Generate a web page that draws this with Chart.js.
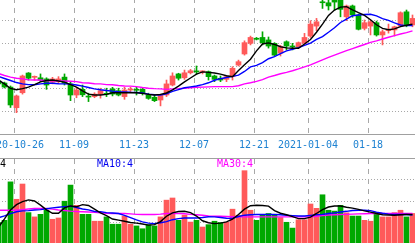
<!DOCTYPE html>
<html>
<head>
<meta charset="utf-8">
<script src="https://cdn.jsdelivr.net/npm/chart.js@4/dist/chart.umd.min.js"></script>
<style>
html,body{margin:0;padding:0;background:#fff;overflow:hidden;width:415px;height:243px;position:relative}
canvas{position:absolute}
#kline{left:-40px;top:-2px}
#vol{left:-40px;top:158px}
.ma{position:absolute;top:159px;font:10px/10px "DejaVu Sans Mono",monospace;white-space:pre}
</style>
</head>
<body>
<canvas id="kline" width="495" height="159"></canvas>
<canvas id="vol" width="495" height="86"></canvas>
<span class="ma" style="left:-24px;color:#000">MA5:4</span>
<span class="ma" style="left:97px;color:#0000f0">MA10:4</span>
<span class="ma" style="left:217px;color:#ff00ff">MA30:4</span>
<script>
// dias de cotizacion (el primero queda fuera del recorte)
const dates=['2020-10-21','2020-10-22','2020-10-23','2020-10-26','2020-10-27','2020-10-28','2020-10-29','2020-10-30','2020-11-02','2020-11-03',
'2020-11-04','2020-11-05','2020-11-06','2020-11-09','2020-11-10','2020-11-11','2020-11-12','2020-11-13','2020-11-16','2020-11-17',
'2020-11-18','2020-11-19','2020-11-20','2020-11-23','2020-11-24','2020-11-25','2020-11-26','2020-11-27','2020-11-30','2020-12-01',
'2020-12-02','2020-12-03','2020-12-04','2020-12-07','2020-12-08','2020-12-09','2020-12-10','2020-12-11','2020-12-14','2020-12-15',
'2020-12-16','2020-12-17','2020-12-18','2020-12-21','2020-12-22','2020-12-23','2020-12-24','2020-12-25','2020-12-28','2020-12-29',
'2020-12-30','2020-12-31','2021-01-04','2021-01-05','2021-01-06','2021-01-07','2021-01-08','2021-01-11','2021-01-12','2021-01-13',
'2021-01-14','2021-01-15','2021-01-18','2021-01-19','2021-01-20','2021-01-21','2021-01-22','2021-01-25','2021-01-26','2021-01-27']

const tickDates=['2020-10-26','2020-11-09','2020-11-23','2020-12-07','2020-12-21','2021-01-04','2021-01-18']
const tickLabels=['2020-10-26','11-09','11-23','12-07','12-21','2021-01-04','01-18']

const open=[12.34,12.25,12.07,11.16,11.82,12.69,12.50,12.48,12.43,12.28,
12.31,12.51,12.21,11.72,11.97,11.66,11.65,11.76,11.78,11.99,
11.91,11.65,11.94,11.95,11.97,11.72,11.62,11.50,11.72,12.16,
12.65,12.48,12.70,12.77,12.74,12.75,12.56,12.46,12.41,12.53,
13.04,13.53,14.00,14.20,14.26,14.15,14.00,13.57,14.07,13.87,
13.85,14.00,14.32,14.76,15.82,15.79,15.90,15.91,15.17,15.65,
15.25,14.66,14.76,14.91,14.37,14.56,14.59,14.76,15.39,14.81]
const close=[12.21,12.07,11.28,11.68,12.56,12.46,12.53,12.38,12.16,12.43,
12.43,12.24,11.72,11.94,11.73,11.63,11.76,11.91,11.75,11.76,
11.72,11.94,11.97,11.93,11.80,11.57,11.47,11.72,12.21,12.56,
12.46,12.70,12.79,12.74,12.77,12.53,12.41,12.38,12.53,12.90,
13.19,14.03,14.26,14.18,14.03,13.88,13.48,13.85,13.88,13.84,
14.03,14.26,14.85,14.95,15.79,15.65,15.82,15.50,15.65,15.25,
14.62,14.91,14.95,14.37,14.51,14.62,14.73,15.35,14.81,15.10]
const high=[12.38,12.29,12.12,11.72,12.60,12.71,12.56,12.65,12.48,12.50,
12.53,12.65,12.28,12.06,12.16,11.80,11.82,12.02,12.02,12.06,
12.02,12.06,12.06,12.06,12.06,11.80,11.72,11.76,12.38,12.70,
12.68,12.82,12.85,13.00,12.79,12.78,12.60,12.56,12.56,12.97,
13.26,14.11,14.32,14.26,14.51,14.28,14.03,13.91,14.11,14.00,
14.06,14.44,15.00,15.10,15.91,15.91,15.98,15.98,15.69,15.69,
15.29,15.03,15.03,14.98,14.59,14.85,14.76,15.39,15.47,15.25]
const low=[12.12,12.03,11.17,10.94,11.76,12.38,12.38,12.31,11.97,12.21,
12.24,12.16,11.47,11.60,11.65,11.43,11.60,11.58,11.65,11.68,
11.68,11.53,11.87,11.72,11.72,11.53,11.43,11.24,11.65,12.12,
12.38,12.41,12.65,12.65,12.65,12.38,12.31,12.31,12.31,12.38,
13.00,13.48,13.93,14.15,13.93,13.79,13.44,13.44,13.71,13.71,
13.78,13.98,14.26,14.56,15.54,15.47,15.47,15.17,15.00,15.15,
14.59,14.59,14.37,14.32,13.93,14.45,14.32,14.73,14.73,14.73]

const ma5=[12.38,12.21,12.01,11.95,12.00,12.07,12.18,12.30,12.36,12.38,
12.34,12.29,12.18,12.07,11.90,11.76,11.72,11.72,11.75,11.82,
11.82,11.82,11.82,11.82,11.79,11.75,11.72,11.75,11.81,11.95,
12.11,12.30,12.47,12.64,12.74,12.72,12.69,12.64,12.57,12.53,
12.80,13.06,13.30,13.67,13.97,14.02,13.95,13.85,13.80,13.78,
13.78,13.97,14.17,14.49,14.85,15.23,15.47,15.60,15.62,15.48,
15.35,15.23,15.04,14.82,14.66,14.60,14.64,14.74,14.80,14.85]
const ma10=[12.54,12.45,12.36,12.27,12.21,12.18,12.17,12.21,12.24,12.24,
12.22,12.21,12.20,12.16,12.11,12.05,11.99,11.95,11.92,11.89,
11.87,11.86,11.84,11.83,11.81,11.76,11.73,11.72,11.77,11.88,
11.96,12.04,12.08,12.12,12.18,12.26,12.37,12.44,12.49,12.54,
12.60,12.76,12.96,13.03,13.15,13.32,13.41,13.55,13.67,13.74,
13.81,13.91,14.01,14.17,14.30,14.49,14.69,14.92,15.07,15.22,
15.25,15.27,15.28,15.21,15.09,15.01,14.90,14.81,14.78,14.79]
const ma30=[12.67,12.58,12.51,12.46,12.43,12.39,12.38,12.38,12.35,12.35,
12.34,12.34,12.33,12.31,12.26,12.25,12.22,12.21,12.18,12.17,
12.14,12.12,12.11,12.09,12.05,12.02,12.00,11.99,11.97,11.99,
12.00,12.02,12.04,12.06,12.07,12.08,12.09,12.09,12.09,12.09,
12.13,12.21,12.26,12.32,12.40,12.51,12.58,12.66,12.72,12.79,
12.87,12.96,13.05,13.16,13.27,13.38,13.48,13.58,13.68,13.77,
13.86,13.95,14.04,14.11,14.19,14.27,14.34,14.41,14.47,14.55]

const volume=[1.00,1.10,2.89,2.08,2.79,1.46,1.26,1.38,1.57,1.15,
1.21,1.99,2.74,1.80,1.38,1.38,1.06,1.06,1.26,0.92,
0.92,1.30,0.92,0.84,0.71,0.90,0.84,1.26,2.04,2.14,
1.10,1.34,1.02,1.10,0.79,0.90,1.06,1.00,1.01,1.62,
1.34,3.41,1.57,1.10,1.37,1.42,1.37,1.23,1.01,0.74,
1.13,1.13,1.86,1.66,2.29,1.57,1.53,1.80,1.45,1.30,
1.30,1.10,1.06,1.46,1.26,1.26,1.46,1.57,1.26,1.42]
const vma5=[0.78,1.17,1.58,1.83,1.97,2.05,2.00,1.81,1.59,1.43,
1.43,1.68,1.77,1.73,1.83,1.79,1.62,1.45,1.32,1.16,
1.11,1.06,1.00,0.97,0.93,0.88,0.90,1.04,1.29,1.45,
1.51,1.52,1.46,1.30,1.08,0.99,0.95,0.97,1.03,1.16,
1.37,1.62,1.78,1.80,1.79,1.76,1.55,1.43,1.36,1.27,
1.18,1.18,1.25,1.42,1.60,1.72,1.77,1.77,1.71,1.67,
1.61,1.54,1.48,1.42,1.36,1.35,1.34,1.36,1.37,1.37]
const vma10=[1.22,1.31,1.41,1.50,1.54,1.55,1.58,1.60,1.64,1.68,
1.71,1.74,1.76,1.70,1.63,1.59,1.51,1.50,1.46,1.44,
1.42,1.33,1.23,1.12,1.03,0.97,0.95,0.99,1.04,1.13,
1.18,1.21,1.21,1.21,1.23,1.27,1.26,1.23,1.20,1.19,
1.28,1.34,1.36,1.37,1.37,1.37,1.37,1.36,1.34,1.32,
1.30,1.30,1.33,1.36,1.38,1.42,1.45,1.49,1.52,1.56,
1.57,1.57,1.55,1.48,1.43,1.39,1.37,1.37,1.37,1.35]
const vma30=[1.57,1.57,1.57,1.57,1.60,1.63,1.65,1.65,1.65,1.62,
1.58,1.56,1.53,1.51,1.50,1.49,1.47,1.45,1.43,1.42,
1.42,1.42,1.40,1.38,1.37,1.37,1.37,1.39,1.42,1.42,
1.42,1.41,1.38,1.36,1.34,1.31,1.29,1.29,1.28,1.27,
1.26,1.26,1.26,1.26,1.26,1.26,1.26,1.26,1.26,1.26,
1.26,1.26,1.27,1.29,1.32,1.35,1.36,1.37,1.38,1.39,
1.40,1.41,1.42,1.42,1.42,1.42,1.42,1.42,1.42,1.42]

const RED='#ff5a5a'
const GREEN='#00a800'
const GRID='#a8a8a8'
const AXIS='#a0a0a0'

// la linea de la fecha cae en el borde izquierdo de la vela
const TICK_SHIFT=-2.5/6
const X_MIN=-6.4167, X_MAX=76.0833

const upColor=ctx=>close[ctx.dataIndex]>=open[ctx.dataIndex]?RED:GREEN
const pts=arr=>arr.map((v,i)=>({x:i,y:v}))
const dateTicks=axis=>{
    axis.ticks=tickDates.map(d=>({value:dates.indexOf(d)+TICK_SHIFT}))
}
const tickText=value=>{
    const i=Math.round(value-TICK_SHIFT)
    const n=tickDates.indexOf(dates[i])
    return n<0?'':tickLabels[n]
}
const maLine=(data,color)=>({
    type:'line',data:pts(data),borderColor:color,borderWidth:1.4,
    pointRadius:0,tension:0,order:0
})

Chart.defaults.font.family='DejaVu Sans Mono'

new Chart('kline',{
    type:'bar',
    data:{
        datasets:[
            maLine(ma5,'#000000'),
            maLine(ma10,'#0000ff'),
            maLine(ma30,'#ff00ff'),
            {data:dates.map((d,i)=>({x:i,y:[low[i],high[i]]})),backgroundColor:upColor,
             barThickness:1,grouped:false,order:2},
            {data:dates.map((d,i)=>({x:i,y:[open[i],close[i]]})),backgroundColor:upColor,
             barThickness:5,minBarLength:1,grouped:false,order:1}
        ]
    },
    options:{
        responsive:false,animation:false,devicePixelRatio:1,events:[],
        layout:{padding:0},
        plugins:{legend:{display:false},tooltip:{enabled:false}},
        scales:{
            x:{
                type:'linear',min:X_MIN,max:X_MAX,offset:false,
                afterBuildTicks:dateTicks,
                afterFit:axis=>{axis.height=23},
                grid:{color:GRID,drawTicks:false,offset:false},
                border:{display:true,color:AXIS,dash:[5,5]},
                ticks:{color:'#1e82d2',font:{size:10},padding:5,maxRotation:0,autoSkip:false,callback:tickText}
            },
            y:{
                min:10,max:16,
                afterFit:axis=>{axis.width=0},
                ticks:{display:false,stepSize:1},
                grid:{color:GRID,drawTicks:false},
                border:{display:false,dash:[1,2]}
            }
        }
    }
})

new Chart('vol',{
    type:'bar',
    data:{
        datasets:[
            maLine(vma5,'#000000'),
            maLine(vma10,'#0000ff'),
            maLine(vma30,'#ff00ff'),
            {data:pts(volume),backgroundColor:upColor,barThickness:5,grouped:false,order:1}
        ]
    },
    options:{
        responsive:false,animation:false,devicePixelRatio:1,events:[],
        layout:{padding:0},
        plugins:{legend:{display:false},tooltip:{enabled:false}},
        scales:{
            x:{
                type:'linear',position:'top',min:X_MIN,max:X_MAX,offset:false,
                afterBuildTicks:dateTicks,
                afterFit:axis=>{axis.height=0},
                grid:{color:GRID,drawTicks:false,offset:false},
                border:{display:true,color:AXIS,dash:[5,5]},
                ticks:{display:false}
            },
            y:{
                min:0,max:4,
                afterFit:axis=>{axis.width=0},
                ticks:{display:false,stepSize:1},
                grid:{color:GRID,drawTicks:false},
                border:{display:false,dash:[1,2]}
            }
        }
    }
})
</script>
</body>
</html>
